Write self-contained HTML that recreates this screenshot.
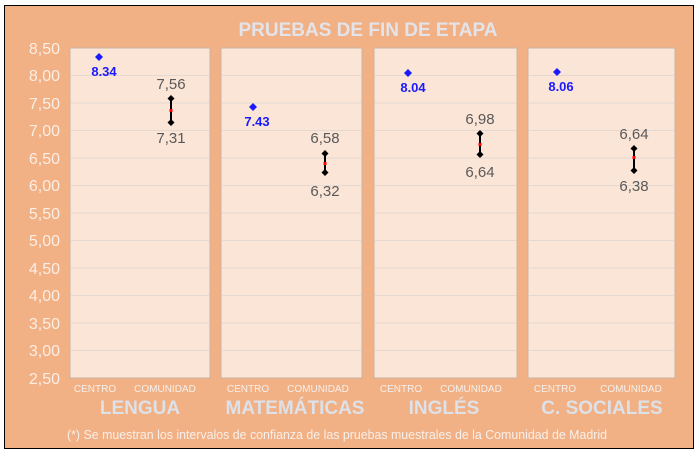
<!DOCTYPE html>
<html><head><style>
body{margin:0;background:#fff;}
svg{display:block;font-family:"Liberation Sans",sans-serif;}
</style></head><body>
<svg width="698" height="453" viewBox="0 0 698 453">
<rect x="4.5" y="5.5" width="689" height="443" fill="#f2b085" stroke="#000" stroke-width="1"/>
<text x="368" y="36" text-anchor="middle" font-size="19" font-weight="bold" fill="#e2e4ea">PRUEBAS DE FIN DE ETAPA</text>
<g font-size="16" fill="#fbeee4" text-anchor="end">
<text x="60" y="54">8,50</text><text x="60" y="81">8,00</text><text x="60" y="109">7,50</text><text x="60" y="136">7,00</text><text x="60" y="164">6,50</text><text x="60" y="191">6,00</text><text x="60" y="219">5,50</text><text x="60" y="246">5,00</text><text x="60" y="274">4,50</text><text x="60" y="301">4,00</text><text x="60" y="329">3,50</text><text x="60" y="356">3,00</text><text x="60" y="384">2,50</text>
</g>
<rect x="70" y="48" width="140" height="330" fill="#fbe5d6" stroke="#c9b3a3" stroke-width="1"/>
<rect x="221" y="48" width="141" height="330" fill="#fbe5d6" stroke="#c9b3a3"/>
<rect x="374" y="48" width="143" height="330" fill="#fbe5d6" stroke="#c9b3a3"/>
<rect x="528" y="48" width="147" height="330" fill="#fbe5d6" stroke="#c9b3a3"/>
<g stroke="#e3d8d2" stroke-width="1">
<path d="M71 75.5H209M71 103H209M71 130.5H209M71 158H209M71 185.5H209M71 213H209M71 240.5H209M71 268H209M71 295.5H209M71 323H209M71 350.5H209"/>
<path d="M222 75.5H361M222 103H361M222 130.5H361M222 158H361M222 185.5H361M222 213H361M222 240.5H361M222 268H361M222 295.5H361M222 323H361M222 350.5H361"/>
<path d="M375 75.5H516M375 103H516M375 130.5H516M375 158H516M375 185.5H516M375 213H516M375 240.5H516M375 268H516M375 295.5H516M375 323H516M375 350.5H516"/>
<path d="M529 75.5H674M529 103H674M529 130.5H674M529 158H674M529 185.5H674M529 213H674M529 240.5H674M529 268H674M529 295.5H674M529 323H674M529 350.5H674"/>
</g>
<g fill="#1a1aff" font-size="13" font-weight="bold">
<path d="M99 53l4 4-4 4-4-4z"/><text x="104" y="76" text-anchor="middle">8.34</text>
<path d="M253 103l4 4-4 4-4-4z"/><text x="257" y="126" text-anchor="middle">7.43</text>
<path d="M408 69l4 4-4 4-4-4z"/><text x="413" y="92" text-anchor="middle">8.04</text>
<path d="M557 68l4 4-4 4-4-4z"/><text x="561" y="91" text-anchor="middle">8.06</text>
</g>
<g stroke="#000" stroke-width="2">
<path d="M171 99V123M325 153V173M480 134V155M634 149V171"/>
</g>
<g fill="#000">
<path d="M171 95l3.5 3.5-3.5 3.5-3.5-3.5zM171 119l3.5 3.5-3.5 3.5-3.5-3.5z"/>
<path d="M325 150l3.5 3.5-3.5 3.5-3.5-3.5zM325 169l3.5 3.5-3.5 3.5-3.5-3.5z"/>
<path d="M480 130l3.5 3.5-3.5 3.5-3.5-3.5zM480 151l3.5 3.5-3.5 3.5-3.5-3.5z"/>
<path d="M634 145l3.5 3.5-3.5 3.5-3.5-3.5zM634 167l3.5 3.5-3.5 3.5-3.5-3.5z"/>
</g>
<g fill="#f00"><rect x="169.5" y="109" width="3" height="3"/><rect x="323.5" y="162" width="3" height="3"/><rect x="478.5" y="143" width="3" height="3"/><rect x="632.5" y="156" width="3" height="3"/></g>
<g fill="#595959" font-size="15" text-anchor="middle">
<text x="171" y="89">7,56</text><text x="171" y="143">7,31</text>
<text x="325" y="143">6,58</text><text x="325" y="196">6,32</text>
<text x="480" y="124">6,98</text><text x="480" y="177">6,64</text>
<text x="634" y="139">6,64</text><text x="634" y="191">6,38</text>
</g>
<g fill="#f5f0ec" font-size="10" text-anchor="middle">
<text x="95" y="392">CENTRO</text><text x="165" y="392">COMUNIDAD</text>
<text x="248" y="392">CENTRO</text><text x="318" y="392">COMUNIDAD</text>
<text x="401" y="392">CENTRO</text><text x="471" y="392">COMUNIDAD</text>
<text x="555" y="392">CENTRO</text><text x="631" y="392">COMUNIDAD</text>
</g>
<g fill="#dde1e8" font-size="19" font-weight="bold" text-anchor="middle">
<text x="140" y="414">LENGUA</text><text x="295" y="414">MATEMÁTICAS</text><text x="444" y="414">INGLÉS</text><text x="602" y="414">C. SOCIALES</text>
</g>
<text x="67" y="439" font-size="12.5" fill="#f8f0ea" textLength="540" lengthAdjust="spacingAndGlyphs">(*) Se muestran los intervalos de confianza de las pruebas muestrales de la Comunidad de Madrid</text>
</svg>
</body></html>
